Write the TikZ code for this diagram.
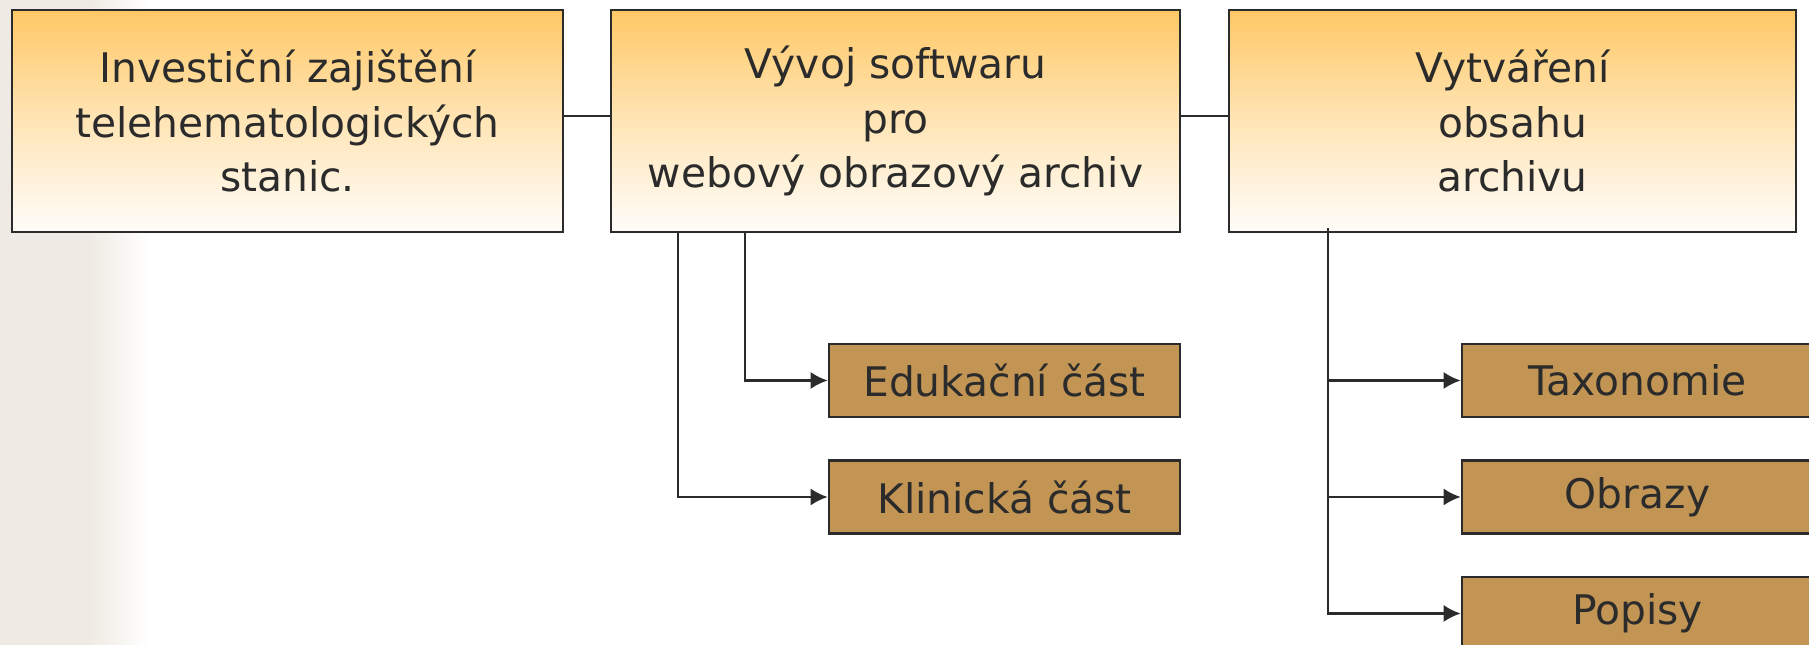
\documentclass[tikz,border=0pt]{standalone}
\usepackage{fontspec}
\setmainfont{DejaVu Sans}
\usetikzlibrary{calc,arrows.meta,positioning}
\definecolor{boxtop}{RGB}{255,200,102}
\definecolor{boxmid}{RGB}{255,229,182}
\definecolor{boxbottom}{RGB}{255,253,250}
\definecolor{leaffill}{RGB}{194,149,84}
\definecolor{inkgray}{RGB}{43,43,43}
\definecolor{bgbeige}{RGB}{239,235,228}

\begin{document}
\begin{tikzpicture}[>={Latex[length=1.7mm,width=1.7mm]}, line/.style={draw=inkgray, line width=0.6pt}, border/.style={draw=inkgray, line width=0.75pt}, every node/.style={font=\fontsize{11.6}{15.4}\selectfont, text=inkgray}]
    % Define styles for the main blocks and the leaf boxes
    \tikzstyle{block} = [rectangle, border, top color=boxtop, bottom color=boxbottom, middle color=boxmid, minimum height=2.22cm, inner sep=0pt, align=center]
    \tikzstyle{leaf} = [rectangle, border, fill=leaffill, minimum width=3.51cm, minimum height=0.73cm, inner sep=0pt]

    % Page size and the faded strip on the left
    \useasboundingbox (0,0) rectangle (18.09,-6.45);
    \fill[bgbeige] (0,0) rectangle (0.9,-6.45);
    \shade[left color=bgbeige, right color=white] (0.9,0) rectangle (1.5,-6.45);

    % Nodes placement
    \node [block, minimum width=5.51cm] (invest) at (2.875,-1.21) {Investiční zajištění\\telehematologických\\stanic.};
    \node [block, minimum width=5.69cm, right of=invest, node distance=6.08cm] (software) {Vývoj softwaru\\pro\\webový obrazový archiv};
    \node [block, minimum width=5.67cm, right of=software, node distance=6.17cm] (content) {Vytváření\\obsahu\\archivu};

    \node [leaf, below of=software, node distance=2.595cm, xshift=1.09cm] (edu) {Edukační část};
    \node [leaf, below of=edu, node distance=1.165cm] (clinic) {Klinická část};
    \node [leaf, below of=content, node distance=2.595cm, xshift=1.25cm] (taxo) {Taxonomie};
    \node [leaf, below of=taxo, node distance=1.165cm] (images) {Obrazy};
    \node [leaf, below of=images, node distance=1.165cm] (descr) {Popisy};

    % Draw edges between the main blocks
    \draw[line] ([yshift=0.05cm]invest.east) -- ([yshift=0.05cm]software.west);
    \draw[line] ([yshift=0.05cm]software.east) -- ([yshift=0.05cm]content.west);

    % Branches of the software block
    \coordinate (softA) at ($(software.south west)+(0.68,0)$);
    \coordinate (softB) at ($(software.south west)+(1.35,0)$);
    \draw[line,->] (softB) |- (edu.west);
    \draw[line,->] (softA) |- (clinic.west);

    % Branches of the content block
    \coordinate (contA) at ($(content.south west)+(1.00,0.05)$);
    \draw[line,->] (contA) |- (descr.west);
    \draw[line,->] (contA |- taxo.west) -- (taxo.west);
    \draw[line,->] (contA |- images.west) -- (images.west);
\end{tikzpicture}
\end{document}
